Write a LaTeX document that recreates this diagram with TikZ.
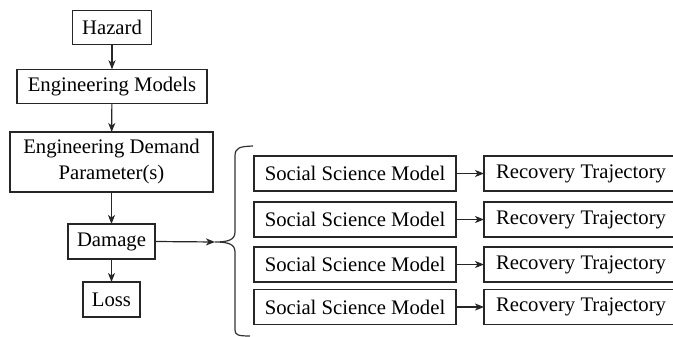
\documentclass[tikz,border=0pt]{standalone}
\usepackage{fontspec}
\setmainfont{Liberation Serif}
\usetikzlibrary{arrows.meta}
\begin{document}
\begin{tikzpicture}[x=1pt,y=-1pt,
  box/.style={draw=black!85, line width=1.3pt, inner sep=0pt, outer sep=0pt,
    minimum height=35pt, font=\fontsize{20.7}{26}\selectfont, align=center},
  conn/.style={draw=black!85, line width=1.2pt, -{Stealth[length=9pt,width=7pt,inset=2.5pt]}},
  brace/.style={draw=black!80, line width=1.2pt}]
\useasboundingbox (0,0) rectangle (673,337);
\node[box, minimum width=79pt, minimum height=34pt] (haz) at (112,27.2) {Hazard};
\node[box, minimum width=190pt, minimum height=34pt] (em) at (112,86.3) {Engineering Models};
\node[box, minimum width=203pt, minimum height=60pt] (edp) at (111.5,162) {Engineering Demand\\Parameter(s)};
\node[box, minimum width=87pt] (dmg) at (111.5,241.5) {Damage};
\node[box, minimum width=57pt] (loss) at (111.5,299.5) {Loss};
\draw[conn] (haz) -- (em);
\draw[conn] (em) -- (edp);
\draw[conn] (edp) -- (dmg);
\draw[conn] (dmg) -- (loss);
\coordinate (tip) at (215,242);
\draw[conn] (dmg.east) -- (tip);
\draw[brace] (253,146) .. controls (240,146.5) and (235,147.5) .. (235,156)
  -- (235,232) .. controls (235,240) and (228,242) .. (tip)
  .. controls (228,242) and (235,244) .. (235,252)
  -- (235,330) .. controls (235,335) and (238,336) .. (250,336);
\foreach \i/\y in {1/173.5,2/219.5,3/264.5,4/307}{
  \node[box, minimum width=202pt] (ss\i) at (355,\y) {Social Science Model};
  \node[box, anchor=west, minimum width=194pt] (rt\i) at (484,\y) {Recovery Trajectory};
  \draw[conn] (ss\i) -- (rt\i);
}
\end{tikzpicture}
\end{document}
